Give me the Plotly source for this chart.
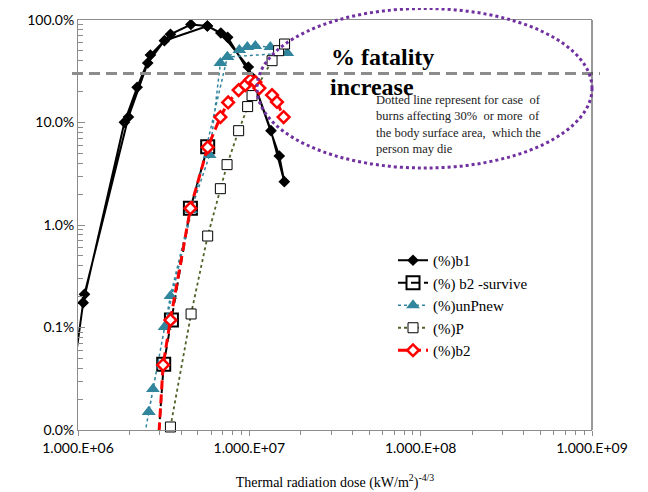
import plotly.graph_objects as go

# ---------------- data (y values in %) ----------------
b1_x = [9.5e5, 1.072e6, 1.866e6, 2.214e6, 2.647e6, 3.463e6, 4.56e6, 5.69e6, 6.821e6,
        9.867e6, 1.338e7, 1.600e7, 1.496e7, 1.037e7, 7.472e6, 5.69e6, 3.194e6,
        2.553e6, 1.970e6, 1.091e6]
b1_y = [0.04, 0.1746, 10.05, 22.05, 45.56, 72.5, 90.4, 87.4, 74.7,
        34.8, 8.32, 2.645, 4.71, 27.6, 67.8, 87.4, 62.8,
        38.07, 11.32, 0.2109]

b2s_x = [2.928e6, 3.164e6, 3.510e6, 4.529e6, 5.713e6]
b2s_y = [0.00714, 0.0438, 0.1183, 1.455, 5.80]

unp_x = [2.387e6, 2.587e6, 2.737e6, 3.208e6, 3.463e6, 4.571e6, 5.868e6, 6.776e6,
         7.44e6, 8.745e6, 9.735e6, 1.084e7, 1.326e7, 1.666e7, 7.44e6, 3.208e6, 2.587e6]
unp_y = [0.00714, 0.0150, 0.0251, 0.1011, 0.203, 1.40, 4.82, 38.1,
         43.6, 51.0, 54.5, 55.8, 54.5, 47.6, 43.6, 0.1011, 0.0150]

p_x = [3.463e6, 4.571e6, 5.713e6, 6.776e6, 7.413e6, 8.663e6, 9.775e6, 1.037e7,
       1.357e7, 1.482e7, 1.606e7]
p_y = [0.0107, 0.1355, 0.781, 2.26, 3.88, 8.32, 14.3, 18.3, 40.1, 50.2, 58.3]

b2_x = [2.94e6, 3.139e6, 3.463e6, 4.529e6, 5.713e6, 6.776e6, 7.522e6, 8.663e6,
        9.477e6, 1.0135e7, 1.084e7, 1.144e7, 1.357e7, 1.450e7, 1.585e7]
b2_y = [0.0071, 0.0431, 0.1183, 1.455, 5.73, 11.3, 15.7, 20.7,
        23.2, 26.0, 24.8, 21.7, 18.5, 15.85, 11.3]

fatal_level = 30  # % horizontal dashed reference

x_tickvals = [1e6, 1e7, 1e8, 1e9]
x_ticktext = ["1.000.E+06", "1.000.E+07", "1.000.E+08", "1.000.E+09"]
y_tickvals = [0.0001, 0.001, 0.01, 0.1, 1]


def frac(v):
    return [a / 100 for a in v]


SERIF = "Liberation Serif, Times New Roman, serif"
SANS = "Lato, Carlito, Liberation Sans, sans-serif"

fig = go.Figure()

fig.add_trace(go.Scatter(
    x=b1_x, y=frac(b1_y), name="(%)b1", mode="lines+markers",
    line=dict(color="black", width=2),
    marker=dict(symbol="diamond", size=9, color="black")))

fig.add_trace(go.Scatter(
    x=b2s_x, y=frac(b2s_y), name="(%) b2 -survive", mode="lines+markers",
    line=dict(color="black", width=2, dash="8px,5px"),
    marker=dict(symbol="square-open", size=13, color="black", line=dict(width=2))))

fig.add_trace(go.Scatter(
    x=unp_x, y=frac(unp_y), name="(%)unPnew", mode="lines+markers",
    line=dict(color="#31859C", width=1.5, dash="dot"),
    marker=dict(symbol="triangle-up", size=12, color="#31859C")))

fig.add_trace(go.Scatter(
    x=p_x, y=frac(p_y), name="(%)P", mode="lines+markers", cliponaxis=False,
    line=dict(color="#4F6228", width=1.8, dash="dot"),
    marker=dict(symbol="square", size=10, color="white",
                line=dict(color="black", width=1))))

fig.add_trace(go.Scatter(
    x=b2_x, y=frac(b2_y), name="(%)b2", mode="lines+markers",
    line=dict(color="#FF0000", width=3, dash="9px,5px"),
    marker=dict(symbol="diamond", size=9, color="white",
                line=dict(color="#FF0000", width=2.5))))

# The page body has an 8 px margin, so the figure sits at (8, 8) in the window.
OFF = 8
FIG_W, FIG_H = 648 - OFF, 492 - OFF
# plot area in window pixels
L, R, T, B = 78, 592, 20, 430
W, H = R - L, B - T


def px(xp):
    return (xp - L) / W


def py(yp):
    return (B - yp) / H


shapes = [
    # horizontal grey dashed line at 30 %
    dict(type="line", xref="paper", yref="y", x0=px(72), x1=px(600),
         y0=fatal_level / 100, y1=fatal_level / 100,
         line=dict(color="#8c8c8c", width=3, dash="11px,6px")),
    # right border
    dict(type="line", xref="paper", yref="paper", x0=1, x1=1, y0=0, y1=1,
         line=dict(color="#333333", width=1)),
    # purple dotted ellipse
    dict(type="circle", xref="paper", yref="paper",
         x0=px(257), x1=px(592), y0=py(168), y1=py(8.5),
         line=dict(color="#7030A0", width=3, dash="dot")),
]

annotations = [
    dict(xref="paper", yref="paper", x=px(329), y=py(57), xanchor="left", yanchor="middle",
         text="<b>% fatality</b>", showarrow=False,
         font=dict(family=SERIF, size=24, color="black")),
    dict(xref="paper", yref="paper", x=px(328), y=py(87), xanchor="left", yanchor="middle",
         text="<b>increase</b>", showarrow=False,
         font=dict(family=SERIF, size=24, color="black")),
    dict(xref="paper", yref="paper", x=px(374), y=py(91), xanchor="left", yanchor="top",
         align="left", showarrow=False,
         text="Dotted line represent for case\u00a0 of<br>"
              "burns affecting 30%\u00a0 or more\u00a0 of<br>"
              "the body surface area,\u00a0 which the<br>"
              "person may die",
         font=dict(family=SERIF, size=12.5, color="#222222")),
]

fig.update_layout(
    width=FIG_W, height=FIG_H,
    margin=dict(l=L - OFF, r=FIG_W - (R - OFF), t=T - OFF, b=FIG_H - (B - OFF), autoexpand=False),
    paper_bgcolor="white", plot_bgcolor="white",
    shapes=shapes, annotations=annotations,
    showlegend=True,
    legend=dict(x=px(393), y=py(244), xanchor="left", yanchor="top",
                bgcolor="rgba(0,0,0,0)", tracegroupgap=0,
                font=dict(family=SERIF, size=15, color="black")),
    xaxis=dict(type="log", range=[6, 9], tickvals=x_tickvals, ticktext=x_ticktext,
               automargin=False,
               showgrid=False, zeroline=False,
               showline=True, linecolor="#8c8c8c", linewidth=1, mirror=True,
               ticks="outside", ticklen=5, tickcolor="#8c8c8c",
               minor=dict(ticks="outside", ticklen=4, tickcolor="#8c8c8c", dtick="D1", showgrid=False),
               tickfont=dict(family=SANS, size=14, color="black"),
               title=dict(text="Thermal radiation dose (kW/m<sup>2</sup>)<sup>-4/3</sup>",
                          font=dict(family=SERIF, size=14, color="black"), standoff=22)),
    yaxis=dict(type="log", range=[-4, 0], tickvals=y_tickvals, tickformat=".1%",
               automargin=False,
               showgrid=False, zeroline=False,
               showline=True, linecolor="#8c8c8c", linewidth=1, mirror=False,
               ticks="inside", ticklen=7, tickcolor="#8c8c8c",
               minor=dict(ticks="inside", ticklen=5, tickcolor="#8c8c8c", dtick="D1", showgrid=False),
               tickfont=dict(family=SANS, size=14, color="black")),
)

fig.write_html("out.html")
